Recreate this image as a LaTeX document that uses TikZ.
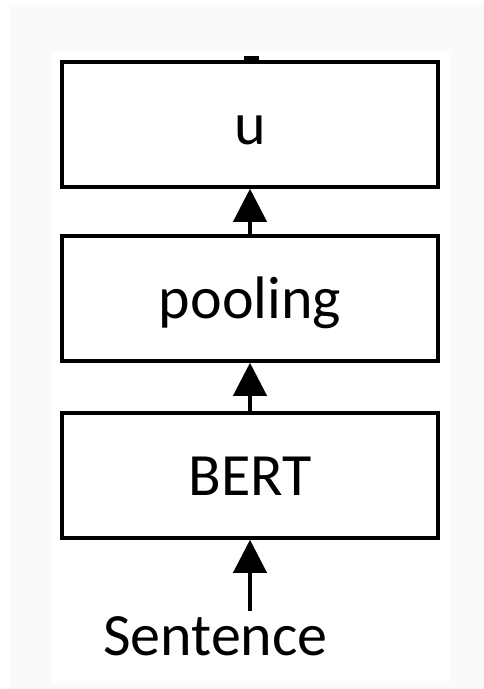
\documentclass[tikz,border=0pt]{standalone}
\usepackage{fontspec}
\setmainfont{Carlito}
\usetikzlibrary{arrows.meta}
\begin{document}
\begin{tikzpicture}[x=1pt,y=-1pt,
  layer/.style={draw=black, line width=3.5pt, fill=white, minimum width=376pt,
    minimum height=125pt, inner sep=0pt, text height=39pt, text depth=0pt,
    font=\fontsize{60pt}{72pt}\selectfont},
  flow/.style={line width=4pt, -{Triangle[length=33pt,width=33pt]}}]
  % page: light grey margin around a white sheet
  \fill[white] (0,0) rectangle (484,689);
  \fill[black!2] (9,5) rectangle (484,689);
  \fill[white] (52,52) rectangle (450,683);
  \useasboundingbox (0,0) rectangle (484,689);

  % stacked layers
  \node[layer] (u)    at (250,124.5) {u};
  \node[layer] (pool) at (250,298.5) {pooling};
  \node[layer] (bert) at (250,475.5) {BERT};
  \node[inner sep=0pt, text height=39pt, text depth=0pt, anchor=base,
    font=\fontsize{60pt}{72pt}\selectfont] (sent) at (215.5,655) {Sentence};

  % connectors
  \draw[flow] ([yshift=5pt]sent.north -| bert.south) -- (bert.south);
  \draw[flow] (bert.north) -- (pool.south);
  \draw[flow] (pool.north) -- (u.south);

  % short stub on top of the output layer
  \fill ([xshift=-6pt]u.north) rectangle ++(15,-4);
\end{tikzpicture}
\end{document}
